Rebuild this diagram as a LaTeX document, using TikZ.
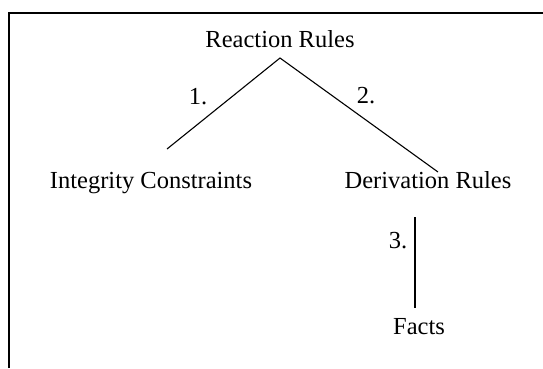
\documentclass[tikz,border=0pt]{standalone}
\usepackage{fontspec}
\setmainfont{Liberation Serif}
\begin{document}
\begin{tikzpicture}[x=1pt,y=-1pt,
  lbl/.style={anchor=base,inner sep=0pt,font=\fontsize{24.5}{28}\selectfont},
  conn/.style={line width=1.1pt},
  frameline/.style={line width=1.4pt}]
\useasboundingbox (0,0) rectangle (543,368);
\draw[frameline] (9,368) -- (9,13) -- (543,13);
\node[lbl] (rr) at (280,47) {Reaction Rules};
\node[lbl] (ic) at (151,188) {Integrity Constraints};
\node[lbl] (dr) at (428,188) {Derivation Rules};
\node[lbl] (fa) at (419,334) {Facts};
\node[lbl] (l1) at (198,104) {1.};
\node[lbl] (l2) at (366,103) {2.};
\node[lbl] (l3) at (398,248) {3.};
\coordinate (apex) at (280,58);
\coordinate (icend) at (167,149);
\coordinate (drend) at (438,172);
\coordinate (drbot) at (415,217);
\coordinate (fatop) at (415,308);
\draw[conn] (icend) -- (apex) -- (drend);
\draw[conn] (drbot) -- (fatop);
\end{tikzpicture}
\end{document}
